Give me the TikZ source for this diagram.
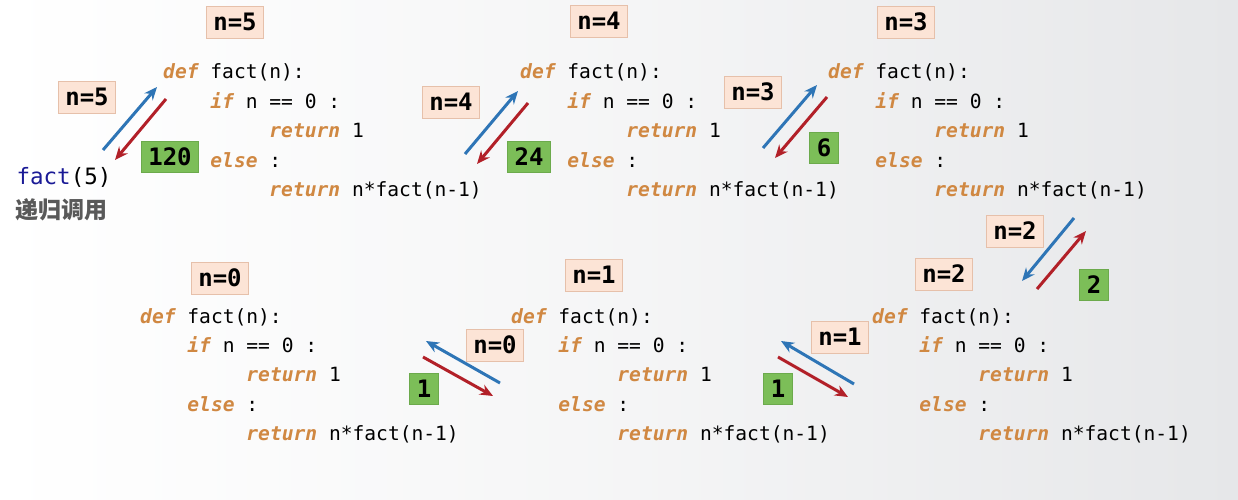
\documentclass[tikz,border=0pt]{standalone}
\usepackage{fontspec}
\usetikzlibrary{arrows.meta}
\newfontfamily\codefont{DejaVu Sans Mono}[BoldFont={DejaVu Sans Mono Bold},ItalicFont={DejaVu Sans Mono Oblique},BoldItalicFont={DejaVu Sans Mono Bold Oblique}]
\newfontfamily\cjk{Noto Sans CJK SC}
\definecolor{kwc}{RGB}{208,136,66}
\definecolor{peach}{RGB}{252,228,214}
\definecolor{peachline}{RGB}{230,192,170}
\definecolor{grn}{RGB}{124,190,88}
\definecolor{grnline}{RGB}{108,170,76}
\definecolor{arrblue}{RGB}{46,117,182}
\definecolor{arrred}{RGB}{178,32,40}
\definecolor{navy}{RGB}{26,26,150}
\definecolor{bgright}{RGB}{230,231,233}
\newcommand\kw[1]{{\color{kwc}\bfseries\itshape #1}}
\newcommand\codeblk[3]{%
  \node[codeline] (#1l1) at (#2,#3) {\kw{def} fact(n):};
  \node[codeline] (#1l2) at (#2,#3+29.4) {\phantom{0000}\kw{if} n == 0 :};
  \node[codeline] (#1l3) at (#2,#3+58.8) {\phantom{000000000}\kw{return} 1};
  \node[codeline] (#1l4) at (#2,#3+88.2) {\phantom{0000}\kw{else} :};
  \node[codeline] (#1l5) at (#2,#3+117.6) {\phantom{000000000}\kw{return} n*fact(n-1)};
}
\tikzset{
  codeline/.style={anchor=base west, inner sep=0pt, font=\codefont\fontsize{19.6}{23}\selectfont},
  nlabel/.style={fill=peach, draw=peachline, line width=0.8pt, inner xsep=7pt, inner ysep=0pt,
     minimum height=32pt, font=\codefont\bfseries\fontsize{24}{24}\selectfont},
  rlabel/.style={fill=grn, draw=grnline, line width=0.6pt, inner xsep=7pt, inner ysep=0pt,
     minimum height=31pt, font=\codefont\bfseries\fontsize{24}{24}\selectfont},
  callarr/.style={draw=arrblue, line width=3pt, -{Stealth[length=13pt,width=11pt]}},
  retarr/.style={draw=arrred, line width=3pt, -{Stealth[length=13pt,width=11pt]}},
}
\begin{document}
\begin{tikzpicture}[x=1pt,y=-1pt]
\useasboundingbox (0,0) rectangle (1238,500);
\shade[left color=white, right color=bgright, middle color=white!60!bgright] (0,0) rectangle (1238,500);

% code blocks
\codeblk{A}{163}{79}
\codeblk{B}{520}{79}
\codeblk{C}{828}{79}
\codeblk{D}{140}{323}
\codeblk{E}{511}{323}
\codeblk{F}{872}{323}

% start call
\node[anchor=center, inner sep=0pt, font=\codefont\fontsize{22.5}{24}\selectfont] (call) at (64,177) {{\color{navy}fact}(5)};
\node[anchor=center, inner sep=0pt, text=black!65, font=\cjk\bfseries\fontsize{23}{24}\selectfont] (callcap) at (61,210) {递归调用};

% labels: top of each block
\node[nlabel] (tA) at (235,22) {n=5};
\node[nlabel] (tB) at (599,21) {n=4};
\node[nlabel] (tC) at (906,22) {n=3};
\node[nlabel] (tF) at (944,274) {n=2};
\node[nlabel] (tE) at (594,275) {n=1};
\node[nlabel] (tD) at (220,278) {n=0};

% labels next to arrows
\node[nlabel] (pA) at (87,97) {n=5};
\node[nlabel] (pB) at (451,102) {n=4};
\node[nlabel] (pC) at (753,92) {n=3};
\node[nlabel] (pF) at (1015,231) {n=2};
\node[nlabel] (pE) at (840,337) {n=1};
\node[nlabel] (pD) at (495,345) {n=0};

% return values
\node[rlabel] (rA) at (170,157) {120};
\node[rlabel] (rB) at (529,157) {24};
\node[rlabel] (rC) at (824,148) {6};
\node[rlabel] (rF) at (1094,285) {2};
\node[rlabel] (rE) at (778,389) {1};
\node[rlabel] (rD) at (424,389) {1};

% arrow end points
\coordinate (cA0) at (103,150); \coordinate (cA1) at (157,87);
\coordinate (dA0) at (166,99);  \coordinate (dA1) at (115,160);
\coordinate (cB0) at (465,154); \coordinate (cB1) at (518,91);
\coordinate (dB0) at (528,103); \coordinate (dB1) at (477,164);
\coordinate (cC0) at (763,148); \coordinate (cC1) at (817,85);
\coordinate (dC0) at (827,97);  \coordinate (dC1) at (775,158);
\coordinate (cF0) at (1074,218); \coordinate (cF1) at (1022,281);
\coordinate (dF0) at (1037,289); \coordinate (dF1) at (1086,231);
\coordinate (cE0) at (854,384); \coordinate (cE1) at (781,341);
\coordinate (dE0) at (778,357); \coordinate (dE1) at (848,397);
\coordinate (cD0) at (500,383); \coordinate (cD1) at (426,341);
\coordinate (dD0) at (423,357); \coordinate (dD1) at (493,396);

\draw[callarr] (cA0) -- (cA1);
\draw[retarr]  (dA0) -- (dA1);
\draw[callarr] (cB0) -- (cB1);
\draw[retarr]  (dB0) -- (dB1);
\draw[callarr] (cC0) -- (cC1);
\draw[retarr]  (dC0) -- (dC1);
\draw[callarr] (cF0) -- (cF1);
\draw[retarr]  (dF0) -- (dF1);
\draw[callarr] (cE0) -- (cE1);
\draw[retarr]  (dE0) -- (dE1);
\draw[callarr] (cD0) -- (cD1);
\draw[retarr]  (dD0) -- (dD1);
\end{tikzpicture}
\end{document}
